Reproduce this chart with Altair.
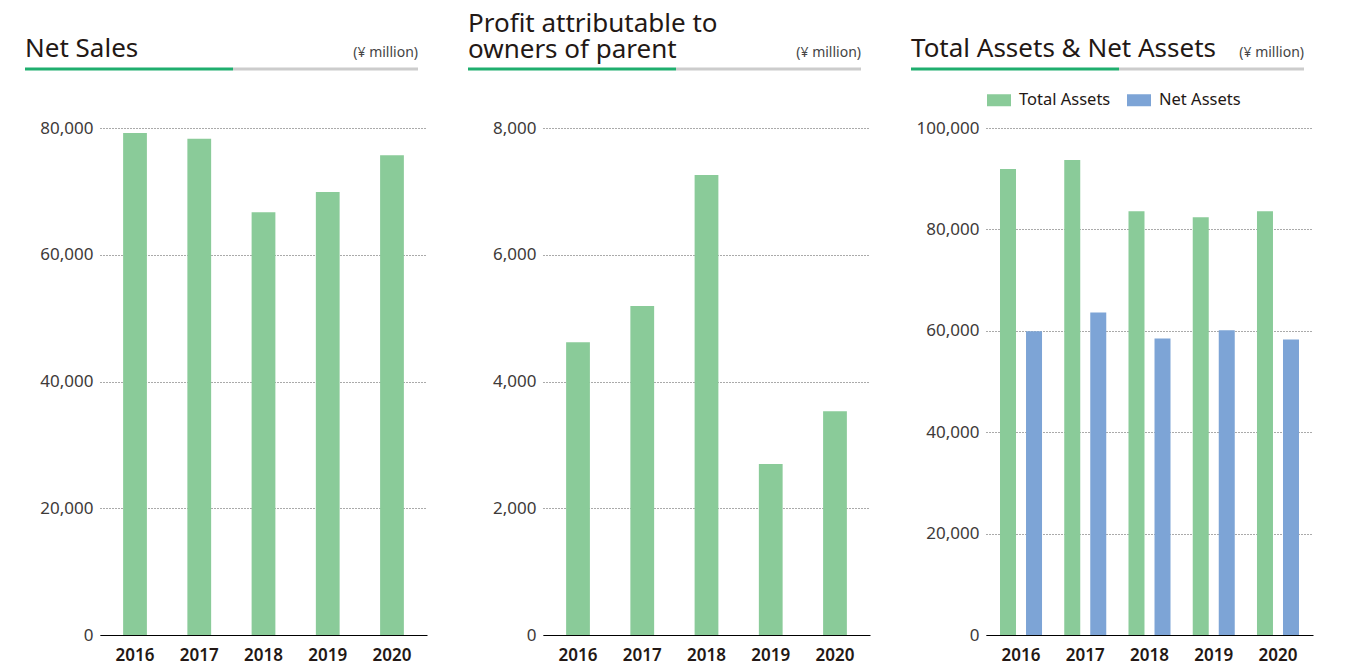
import altair as alt
import pandas as pd

years = ["2016", "2017", "2018", "2019", "2020"]
net_sales = [79200, 78300, 66700, 69900, 75700]
profit = [4620, 5190, 7260, 2700, 3530]
total_assets = [91900, 93700, 83600, 82400, 83600]
net_assets = [59900, 63600, 58500, 60100, 58300]
series_names = ["Total Assets", "Net Assets"]

titles = ["Net Sales", "Profit attributable to\nowners of parent", "Total Assets & Net Assets"]
unit_label = "(¥ million)"

FONT = "Noto Sans"
TXT = "#231815"
GREEN = "#8ACB99"
BLUE = "#7DA4D6"
LINE_GREEN = "#1FAE6E"
LINE_GRAY = "#CCCCCC"
W, H = 327, 507
SPACING = 116


def header(title):
    n = title.count("\n") + 1
    last_base = -71 if n == 1 else -70
    layers = [
        alt.Chart(pd.DataFrame({"t": [title]}))
        .mark_text(align="left", baseline="alphabetic", fontSize=26, font=FONT, color=TXT,
                   lineBreak="\n", lineHeight=26)
        .encode(text="t:N", x=alt.value(-75), y=alt.value(last_base - 26 * (n - 1))),
        alt.Chart(pd.DataFrame({"t": [unit_label]}))
        .mark_text(align="right", baseline="alphabetic", fontSize=14, font=FONT, color="#444")
        .encode(text="t:N", x=alt.value(318), y=alt.value(-71)),
    ]
    one = pd.DataFrame({"k": [0]})
    layers.append(
        alt.Chart(one).mark_rule(color=LINE_GRAY, strokeWidth=3)
        .encode(x=alt.value(133), x2=alt.value(318), y=alt.value(-59))
    )
    layers.append(
        alt.Chart(one).mark_rule(color=LINE_GREEN, strokeWidth=3)
        .encode(x=alt.value(-75), x2=alt.value(133), y=alt.value(-59))
    )
    return layers


def x_axis():
    return alt.Axis(title=None, labelAngle=0, ticks=False, domainColor="#000", domainWidth=1,
                    labelFontSize=17, labelFont=FONT, labelColor=TXT, labelFontWeight=600,
                    labelPadding=12, grid=False)


def y_axis(vals):
    return alt.Axis(title=None, values=vals, format=",d", domain=False, ticks=False, grid=True,
                    gridDash=[1, 2], gridColor="#555", gridWidth=1, labelFontSize=17,
                    labelFont=FONT, labelColor="#3e3a39", labelPadding=7)


def single_panel(values, dmax, step, title):
    df = pd.DataFrame({"year": years, "value": values})
    bars = alt.Chart(df).mark_bar(color=GREEN).encode(
        x=alt.X("year:N", sort=years, scale=alt.Scale(paddingInner=0.63, paddingOuter=0.36), axis=x_axis()),
        y=alt.Y("value:Q", scale=alt.Scale(domain=[0, dmax], nice=False),
                axis=y_axis(list(range(0, dmax + 1, step)))),
    )
    return alt.layer(bars, *header(title)).properties(width=W, height=H)


p1 = single_panel(net_sales, 80000, 20000, titles[0])
p2 = single_panel(profit, 8000, 2000, titles[1])

df3 = pd.DataFrame({
    "year": years * 2,
    "series": [series_names[0]] * 5 + [series_names[1]] * 5,
    "value": total_assets + net_assets,
})
bars3 = alt.Chart(df3).mark_bar().encode(
    x=alt.X("year:N", sort=years, scale=alt.Scale(paddingInner=0.346, paddingOuter=0.218), axis=x_axis()),
    xOffset=alt.XOffset("series:N", sort=series_names, scale=alt.Scale(paddingInner=0.385, paddingOuter=0)),
    y=alt.Y("value:Q", scale=alt.Scale(domain=[0, 100000], nice=False),
            axis=y_axis(list(range(0, 100001, 20000)))),
    color=alt.Color("series:N", sort=series_names,
                    scale=alt.Scale(domain=series_names, range=[GREEN, BLUE]),
                    legend=alt.Legend(orient="none", legendX=2 * (W + SPACING) + 1, legendY=-40,
                                      direction="horizontal",
                                      title=None, symbolType="M-1,-0.5H1V0.5H-1Z", symbolSize=576,
                                      symbolStrokeWidth=0, symbolOpacity=1, labelFontSize=16.5,
                                      labelFont=FONT, labelColor=TXT, labelOffset=8,
                                      columnPadding=16)),
)
p3 = alt.layer(bars3, *header(titles[2])).properties(width=W, height=H)

chart = alt.hconcat(p1, p2, p3, spacing=SPACING, bounds="flush").properties(
    padding={"left": 15, "top": 3, "right": 5, "bottom": 5}
).configure_view(stroke=None)

chart.save("out.html", embed_options={"renderer": "svg", "actions": False})
